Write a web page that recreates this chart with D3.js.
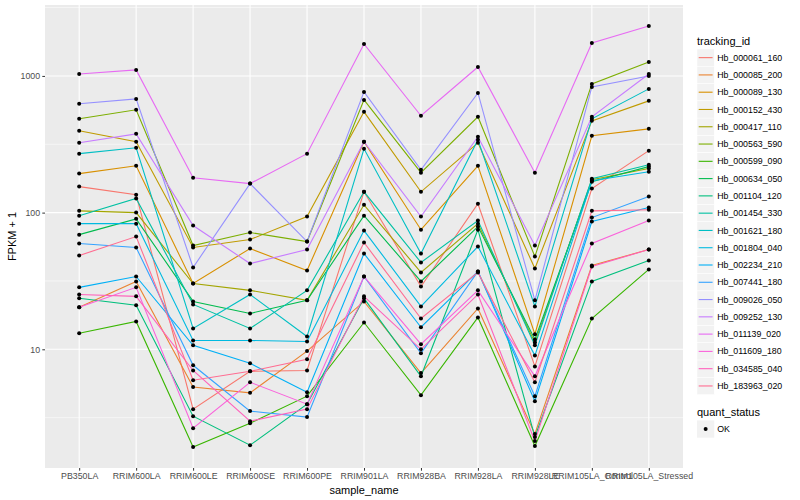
<!DOCTYPE html>
<html>
<head>
<meta charset="utf-8">
<script src="https://cdn.jsdelivr.net/npm/d3@7"></script>
<style>
body { margin: 0; background: #fff; }
text { font-family: "Liberation Sans", Arial, sans-serif; }
</style>
</head>
<body>
<div id="chart"></div>
<script>
// samples on the x axis
var samples = ["PB350LA", "RRIM600LA", "RRIM600LE", "RRIM600SE", "RRIM600PE", "RRIM901LA",
	"RRIM928BA", "RRIM928LA", "RRIM928LE", "RRIM105LA_Control", "RRIM105LA_Stressed"];

var trackingIds = ["Hb_000061_160", "Hb_000085_200", "Hb_000089_130", "Hb_000152_430", "Hb_000417_110",
	"Hb_000563_590", "Hb_000599_090", "Hb_000634_050", "Hb_001104_120", "Hb_001454_330",
	"Hb_001621_180", "Hb_001804_040", "Hb_002234_210", "Hb_007441_180", "Hb_009026_050",
	"Hb_009252_130", "Hb_011139_020", "Hb_011609_180", "Hb_034585_040", "Hb_183963_020"];

// FPKM + 1, one array per gene, in sample order
var hb_000061_160 = [155, 135, 3.65, 6.9, 7.0, 142, 28.8, 116, 7.5, 150, 284];
var hb_000085_200 = [20.3, 31.4, 5.3, 4.8, 9.7, 22.4, 6.7, 19.9, 2.4, 41, 53.7];
var hb_000089_130 = [193, 220, 30.3, 54.6, 37.7, 330, 75, 220, 12.9, 365, 410];
var hb_000152_430 = [397, 330, 55.6, 63.5, 93.5, 546, 142, 324, 39, 469, 657];
var hb_000417_110 = [103, 100, 30.3, 27, 22.8, 114, 36.5, 83, 11.2, 174, 210];
var hb_000563_590 = [486, 565, 57.4, 71.5, 61.4, 668, 196, 502, 47.7, 874, 1265];
var hb_000599_090 = [13.1, 16.0, 1.93, 2.88, 4.54, 15.7, 4.62, 17.1, 1.96, 16.8, 38.4];
var hb_000634_050 = [69, 90, 22.4, 18.3, 22.8, 95, 31.4, 79, 11.8, 168, 217];
var hb_001104_120 = [23.6, 21, 3.24, 1.99, 3.97, 23.6, 6.35, 75, 2.28, 31.4, 44.6];
var hb_001454_330 = [95, 127, 21.3, 14.2, 27, 142, 43.2, 87.4, 10.7, 177, 224];
var hb_001621_180 = [270, 298, 14.2, 25.2, 12.4, 293, 50.2, 341, 20.6, 486, 804];
var hb_001804_040 = [83, 83, 11.6, 11.6, 11.4, 73.9, 20.6, 56.5, 9.0, 171, 199];
var hb_002234_210 = [28.4, 34.1, 10.7, 7.9, 4.86, 50.2, 14.5, 37.1, 4.17, 86, 109];
var hb_007441_180 = [59.4, 55.6, 7.64, 3.53, 3.19, 34.1, 9.35, 37.1, 4.54, 92, 131];
var hb_009026_050 = [625, 679, 39.7, 163, 61.4, 764, 206, 751, 22.8, 831, 1000];
var hb_009252_130 = [324, 377, 80.4, 42.4, 53.7, 330, 93.5, 359, 57.4, 502, 1034];
var hb_011139_020 = [1034, 1106, 180, 163, 270, 1713, 511, 1163, 196, 1741, 2317];
var hb_011609_180 = [20.3, 28.4, 2.65, 5.74, 3.97, 34.1, 10.9, 27, 6.35, 59.4, 87.4];
var hb_034585_040 = [25.2, 24.4, 7.0, 2.98, 3.65, 24.4, 10, 25.2, 2.13, 40.3, 53.7];
var hb_183963_020 = [48.5, 66.8, 5.94, 6.9, 8.45, 60.4, 16.8, 36.5, 5.74, 103, 105];

var yTicks = [10, 100, 1000];

var palette = ["#F8766D", "#EA8331", "#D89000", "#C09B00", "#A3A500", "#7CAE00", "#39B600",
	"#00BB4E", "#00BF7D", "#00C1A3", "#00BFC4", "#00BAE0", "#00B0F6", "#35A2FF", "#9590FF",
	"#C77CFF", "#E76BF3", "#FA62DB", "#FF62BC", "#FF6C91"];

var allValues = [hb_000061_160, hb_000085_200, hb_000089_130, hb_000152_430, hb_000417_110,
	hb_000563_590, hb_000599_090, hb_000634_050, hb_001104_120, hb_001454_330,
	hb_001621_180, hb_001804_040, hb_002234_210, hb_007441_180, hb_009026_050,
	hb_009252_130, hb_011139_020, hb_011609_180, hb_034585_040, hb_183963_020];

var series = trackingIds.map(function(id, i) {
	return {id: id, color: palette[i], values: allValues[i]};
});

// ------------------------
var width = 800, height = 500;
var px0 = 45, px1 = 683, py0 = 5, py1 = 468;

var svg = d3.select("#chart").append("svg")
	.attr("width", width)
	.attr("height", height);

var x = d3.scalePoint()
	.domain(samples)
	.range([px0, px1])
	.padding(0.6);

// log scale with ggplot-like 5% expansion
var flat = [].concat.apply([], allValues);
var lmin = Math.log10(d3.min(flat)), lmax = Math.log10(d3.max(flat));
var pad = (lmax - lmin) * 0.05;
var y = d3.scaleLog()
	.domain([Math.pow(10, lmin - pad), Math.pow(10, lmax + pad)])
	.range([py1, py0]);

svg.append("rect")
	.attr("x", px0).attr("y", py0)
	.attr("width", px1 - px0).attr("height", py1 - py0)
	.attr("fill", "#EBEBEB");

// minor grid at half decades
var minor = [];
for (var k = -1; k <= 4; k++) {
	var v = Math.pow(10, k + 0.5);
	if (v > y.domain()[0] && v < y.domain()[1]) minor.push(v);
}
svg.selectAll(".minor")
	.data(minor)
	.enter().append("line")
	.attr("x1", px0).attr("x2", px1)
	.attr("y1", function(d) { return y(d); })
	.attr("y2", function(d) { return y(d); })
	.attr("stroke", "#fff").attr("stroke-width", 0.55);

svg.selectAll(".hgrid")
	.data(yTicks)
	.enter().append("line")
	.attr("x1", px0).attr("x2", px1)
	.attr("y1", function(d) { return y(d); })
	.attr("y2", function(d) { return y(d); })
	.attr("stroke", "#fff").attr("stroke-width", 1.1);

svg.selectAll(".vgrid")
	.data(samples)
	.enter().append("line")
	.attr("x1", function(d) { return x(d); })
	.attr("x2", function(d) { return x(d); })
	.attr("y1", py0).attr("y2", py1)
	.attr("stroke", "#fff").attr("stroke-width", 1.1);

// axes
var yAxis = svg.append("g")
	.attr("transform", "translate(" + px0 + ",0)")
	.call(d3.axisLeft(y).tickValues(yTicks).tickFormat(d3.format("d")).tickSize(2.7).tickPadding(2.2));
var xAxis = svg.append("g")
	.attr("transform", "translate(0," + py1 + ")")
	.call(d3.axisBottom(x).tickSize(2.7).tickPadding(2.4));
[xAxis, yAxis].forEach(function(a) {
	a.select(".domain").remove();
	a.selectAll("line").attr("stroke", "#333333").attr("stroke-width", 1);
	a.selectAll("text").attr("fill", "#4D4D4D").style("font-size", "8.8px")
		.style("font-family", "'Liberation Sans', Arial, sans-serif");
});

var line = d3.line()
	.x(function(d, i) { return x(samples[i]); })
	.y(function(d) { return y(d); });

svg.selectAll(".series")
	.data(series)
	.enter().append("path")
	.attr("d", function(d) { return line(d.values); })
	.attr("fill", "none")
	.attr("stroke", function(d) { return d.color; })
	.attr("stroke-width", 1.1);

series.forEach(function(s) {
	svg.selectAll(null)
		.data(s.values)
		.enter().append("circle")
		.attr("cx", function(d, i) { return x(samples[i]); })
		.attr("cy", function(d) { return y(d); })
		.attr("r", 2)
		.attr("fill", "#000");
});

// axis titles
svg.append("text")
	.attr("x", (px0 + px1) / 2).attr("y", 494)
	.attr("text-anchor", "middle")
	.style("font-size", "11px")
	.text("sample_name");
svg.append("text")
	.attr("transform", "translate(16," + (py0 + py1) / 2 + ") rotate(-90)")
	.attr("text-anchor", "middle")
	.style("font-size", "11px")
	.text("FPKM + 1");

// legend
var lx = 697, key = 17.28, ly = 49;
svg.append("text").attr("x", lx).attr("y", 44.5)
	.style("font-size", "11px").text("tracking_id");

var leg = svg.selectAll(".leg")
	.data(series)
	.enter().append("g")
	.attr("transform", function(d, i) { return "translate(" + lx + "," + (ly + i * key) + ")"; });
leg.append("rect")
	.attr("width", key).attr("height", key)
	.attr("fill", "#F2F2F2").attr("stroke", "#fff").attr("stroke-width", 0.5);
leg.append("line")
	.attr("x1", 1.7).attr("x2", key - 1.7)
	.attr("y1", key / 2).attr("y2", key / 2)
	.attr("stroke", function(d) { return d.color; })
	.attr("stroke-width", 1.1);
leg.append("text")
	.attr("x", key + 2.9).attr("y", key / 2 + 3.1)
	.style("font-size", "8.8px")
	.text(function(d) { return d.id; });

svg.append("text").attr("x", lx).attr("y", 415.5)
	.style("font-size", "11px").text("quant_status");
var ok = svg.append("g").attr("transform", "translate(" + lx + ",420.4)");
ok.append("rect").attr("width", key).attr("height", key).attr("fill", "#F2F2F2");
ok.append("circle").attr("cx", key / 2).attr("cy", key / 2).attr("r", 2).attr("fill", "#000");
ok.append("text").attr("x", key + 2.9).attr("y", key / 2 + 3.1)
	.style("font-size", "8.8px").text("OK");
</script>
</body>
</html>
